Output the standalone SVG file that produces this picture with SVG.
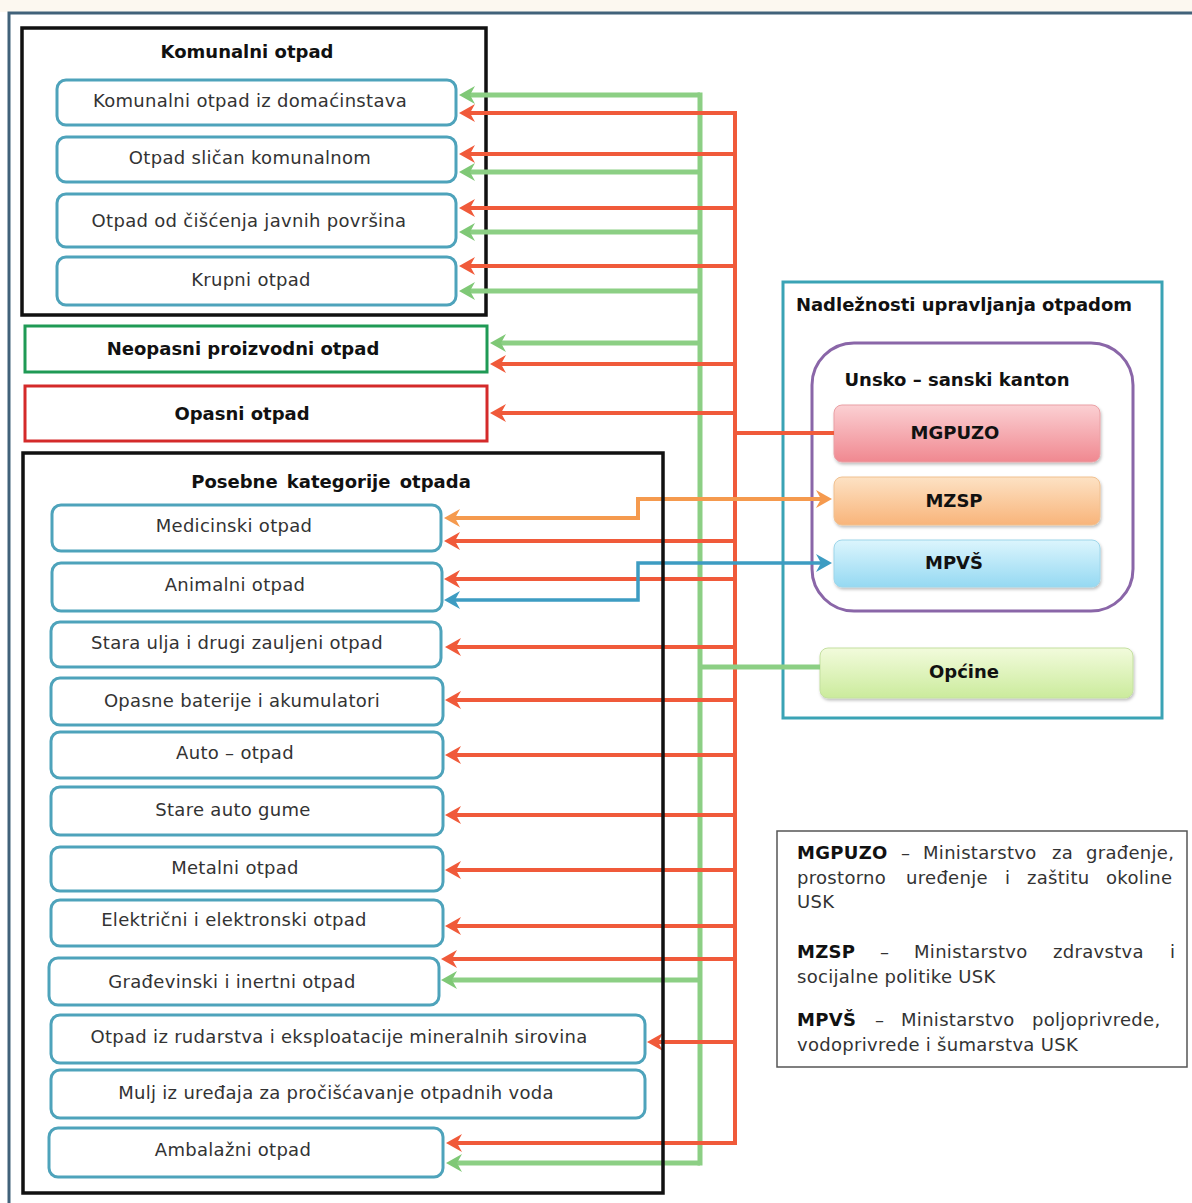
<svg xmlns="http://www.w3.org/2000/svg" width="1192" height="1203" viewBox="0 0 1192 1203">
<defs>
<style>
.lbl{font-family:"DejaVu Sans",sans-serif;font-size:18px;letter-spacing:0.3px;fill:#333;text-anchor:middle}
.ttl{font-family:"DejaVu Sans",sans-serif;font-weight:bold;font-size:18px;fill:#111;text-anchor:middle}
.leg{font-family:"DejaVu Sans",sans-serif;font-size:18px;letter-spacing:0.3px;fill:#333}
.leg .b{font-weight:bold;fill:#111}
.box{fill:#fff;stroke:#4ea3bb;stroke-width:3}
.cont{fill:none;stroke:#111;stroke-width:3.5}
.r{fill:none;stroke:#f05a3a;stroke-width:4}
.g{fill:none;stroke:#8ccf84;stroke-width:5}
.o{fill:none;stroke:#f59a4e;stroke-width:4}
.bl{fill:none;stroke:#3d9cc2;stroke-width:3.5}
.ar{marker-end:url(#mr)}
.ag{marker-end:url(#mg)}
</style>
<marker id="mr" viewBox="0 0 16 18" refX="9" refY="9" markerWidth="16" markerHeight="18" markerUnits="userSpaceOnUse" orient="auto"><path d="M0,0 L16,9 L0,18 L5,9 Z" fill="#f05a3a"/></marker>
<marker id="mg" viewBox="0 0 16 18" refX="9" refY="9" markerWidth="16" markerHeight="18" markerUnits="userSpaceOnUse" orient="auto"><path d="M0,0 L16,9 L0,18 L5,9 Z" fill="#7fc876"/></marker>
<marker id="mo" viewBox="0 0 16 18" refX="9" refY="9" markerWidth="16" markerHeight="18" markerUnits="userSpaceOnUse" orient="auto-start-reverse"><path d="M0,0 L16,9 L0,18 L5,9 Z" fill="#f59a4e"/></marker>
<marker id="mb" viewBox="0 0 16 18" refX="9" refY="9" markerWidth="16" markerHeight="18" markerUnits="userSpaceOnUse" orient="auto-start-reverse"><path d="M0,0 L16,9 L0,18 L5,9 Z" fill="#3d9cc2"/></marker>
<linearGradient id="gPink" x1="0" y1="0" x2="0" y2="1"><stop offset="0" stop-color="#fbd0d3"/><stop offset="1" stop-color="#f08890"/></linearGradient>
<linearGradient id="gOrange" x1="0" y1="0" x2="0" y2="1"><stop offset="0" stop-color="#fde2c4"/><stop offset="1" stop-color="#f8b47a"/></linearGradient>
<linearGradient id="gBlue" x1="0" y1="0" x2="0" y2="1"><stop offset="0" stop-color="#dcf5fd"/><stop offset="1" stop-color="#95d9f2"/></linearGradient>
<linearGradient id="gGreen" x1="0" y1="0" x2="0" y2="1"><stop offset="0" stop-color="#f2fbdc"/><stop offset="1" stop-color="#cbeb9c"/></linearGradient>
<filter id="sh" x="-10%" y="-20%" width="120%" height="150%"><feDropShadow dx="1" dy="2" stdDeviation="1.5" flood-color="#000" flood-opacity="0.25"/></filter>
</defs>
<rect width="1192" height="1203" fill="#fff"/>
<rect width="1192" height="12" fill="#fcf8f0"/>
<path id="frame" d="M9 1215 V13 H1200" fill="none" stroke="#41627a" stroke-width="3"/>

<g id="komunalni">
<rect class="cont" x="22" y="28" width="464" height="287"/>
<text class="ttl" x="247" y="58">Komunalni otpad</text>
</g>
<g id="k1"><rect class="box" x="57" y="80" width="399" height="45" rx="9"/><text class="lbl" x="250" y="107">Komunalni otpad iz domaćinstava</text></g>
<g id="k2"><rect class="box" x="57" y="137" width="399" height="45" rx="9"/><text class="lbl" x="250" y="164">Otpad sličan komunalnom</text></g>
<g id="k3"><rect class="box" x="57" y="194" width="399" height="53" rx="9"/><text class="lbl" x="249" y="227">Otpad od čišćenja javnih površina</text></g>
<g id="k4"><rect class="box" x="57" y="257" width="399" height="48" rx="9"/><text class="lbl" x="251" y="286">Krupni otpad</text></g>

<g id="neopasni"><rect x="25" y="326" width="462" height="46" fill="#fff" stroke="#1f9a55" stroke-width="3"/><text class="ttl" x="243" y="355">Neopasni proizvodni otpad</text></g>
<g id="opasni"><rect x="25" y="386" width="462" height="55" fill="#fff" stroke="#d42a2a" stroke-width="3"/><text class="ttl" x="242" y="420" font-size="19">Opasni otpad</text></g>

<g id="nadleznosti">
<rect x="783" y="282" width="379" height="436" fill="none" stroke="#3aa3b5" stroke-width="3"/>
<text class="ttl" x="964" y="311">Nadležnosti upravljanja otpadom</text>
</g>
<g id="usk">
<rect x="812" y="343" width="321" height="268" rx="42" fill="none" stroke="#8a66a8" stroke-width="3"/>
<text class="ttl" x="957" y="386">Unsko – sanski kanton</text>
</g>
<g id="mgpuzo"><rect x="834" y="405" width="266" height="57" rx="8" fill="url(#gPink)" stroke="#eaa0a5" stroke-width="1" filter="url(#sh)"/><text class="ttl" x="955" y="439">MGPUZO</text></g>
<g id="mzsp"><rect x="834" y="477" width="266" height="48" rx="8" fill="url(#gOrange)" stroke="#f0c090" stroke-width="1" filter="url(#sh)"/><text class="ttl" x="954" y="507">MZSP</text></g>
<g id="mpvs"><rect x="834" y="540" width="266" height="47" rx="8" fill="url(#gBlue)" stroke="#9ed6ea" stroke-width="1" filter="url(#sh)"/><text class="ttl" x="954" y="569">MPVŠ</text></g>
<g id="opcine"><rect x="820" y="648" width="313" height="50" rx="8" fill="url(#gGreen)" stroke="#c4e0a0" stroke-width="1" filter="url(#sh)"/><text class="ttl" x="964" y="678">Općine</text></g>

<g id="connectors">
<path class="g" d="M700 95 V1163" stroke-linecap="square"/>
<path class="r" d="M735 113 V1143" stroke-linecap="square"/>
<path class="g ag" d="M700 95 H466"/>
<path class="r ar" d="M735 113 H466"/>
<path class="r ar" d="M735 154 H466"/>
<path class="g ag" d="M700 172 H466"/>
<path class="r ar" d="M735 208 H466"/>
<path class="g ag" d="M700 232 H466"/>
<path class="r ar" d="M735 266 H466"/>
<path class="g ag" d="M700 291 H466"/>
<path class="g ag" d="M700 343 H497"/>
<path class="r ar" d="M735 364 H497"/>
<path class="r ar" d="M735 413 H497"/>
<path class="r" d="M834 433 H735"/>
<path class="o" d="M825 499 H638 V518 H451" marker-start="url(#mo)" marker-end="url(#mo)"/>
<path class="r ar" d="M735 541 H451"/>
<path class="r ar" d="M735 579 H451"/>
<path class="bl" d="M825 563 H638 V600 H451" marker-start="url(#mb)" marker-end="url(#mb)"/>
<path class="r ar" d="M735 647 H452"/>
<path class="g" d="M820 667 H700"/>
<path class="r ar" d="M735 700 H452"/>
<path class="r ar" d="M735 755 H452"/>
<path class="r ar" d="M735 815 H452"/>
<path class="r ar" d="M735 870 H452"/>
<path class="r ar" d="M735 926 H452"/>
<path class="r ar" d="M735 959 H448"/>
<path class="g ag" d="M700 980 H448"/>
<path class="r ar" d="M735 1042 H654"/>
<path class="r ar" d="M735 1143 H453"/>
<path class="g ag" d="M700 1163 H453"/>
</g>

<g id="posebne">
<rect class="cont" x="23" y="453" width="640" height="740"/>
<text class="ttl" x="331" y="488" word-spacing="3">Posebne kategorije otpada</text>
</g>
<g id="p1"><rect class="box" x="52" y="505" width="389" height="46" rx="9"/><text class="lbl" x="234" y="532">Medicinski otpad</text></g>
<g id="p2"><rect class="box" x="52" y="563" width="390" height="48" rx="9"/><text class="lbl" x="235" y="591">Animalni otpad</text></g>
<g id="p3"><rect class="box" x="51" y="622" width="390" height="45" rx="9"/><text class="lbl" x="237" y="649">Stara ulja i drugi zauljeni otpad</text></g>
<g id="p4"><rect class="box" x="51" y="678" width="392" height="47" rx="9"/><text class="lbl" x="242" y="707">Opasne baterije i akumulatori</text></g>
<g id="p5"><rect class="box" x="51" y="732" width="392" height="46" rx="9"/><text class="lbl" x="235" y="759">Auto – otpad</text></g>
<g id="p6"><rect class="box" x="51" y="787" width="392" height="48" rx="9"/><text class="lbl" x="233" y="816">Stare auto gume</text></g>
<g id="p7"><rect class="box" x="51" y="847" width="392" height="44" rx="9"/><text class="lbl" x="235" y="874">Metalni otpad</text></g>
<g id="p8"><rect class="box" x="51" y="900" width="392" height="46" rx="9"/><text class="lbl" x="234" y="926">Električni i elektronski otpad</text></g>
<g id="p9"><rect class="box" x="49" y="958" width="390" height="47" rx="9"/><text class="lbl" x="232" y="988">Građevinski i inertni otpad</text></g>
<g id="p10"><rect class="box" x="51" y="1015" width="594" height="48" rx="9"/><text class="lbl" x="339" y="1043">Otpad iz rudarstva i eksploatacije mineralnih sirovina</text></g>
<g id="p11"><rect class="box" x="51" y="1070" width="594" height="48" rx="9"/><text class="lbl" x="336" y="1099">Mulj iz uređaja za pročišćavanje otpadnih voda</text></g>
<g id="p12"><rect class="box" x="49" y="1128" width="394" height="49" rx="9"/><text class="lbl" x="233" y="1156">Ambalažni otpad</text></g>

<g id="legend">
<rect x="777" y="831" width="410" height="236" fill="#fff" stroke="#555" stroke-width="1.5"/>
<text class="leg" y="859"><tspan class="b" x="797">MGPUZO</tspan><tspan x="901">–</tspan><tspan x="923">Ministarstvo</tspan><tspan x="1052">za</tspan><tspan x="1086">građenje,</tspan></text>
<text class="leg" y="884"><tspan x="797">prostorno</tspan><tspan x="906">uređenje</tspan><tspan x="1005">i</tspan><tspan x="1027">zaštitu</tspan><tspan x="1106">okoline</tspan></text>
<text class="leg" x="797" y="908">USK</text>
<text class="leg" y="958"><tspan class="b" x="797">MZSP</tspan><tspan x="880">–</tspan><tspan x="914">Ministarstvo</tspan><tspan x="1053">zdravstva</tspan><tspan x="1170">i</tspan></text>
<text class="leg" x="797" y="983">socijalne politike USK</text>
<text class="leg" y="1026"><tspan class="b" x="797">MPVŠ</tspan><tspan x="875">–</tspan><tspan x="901">Ministarstvo</tspan><tspan x="1032">poljoprivrede,</tspan></text>
<text class="leg" x="797" y="1051">vodoprivrede i šumarstva USK</text>
</g>
</svg>
